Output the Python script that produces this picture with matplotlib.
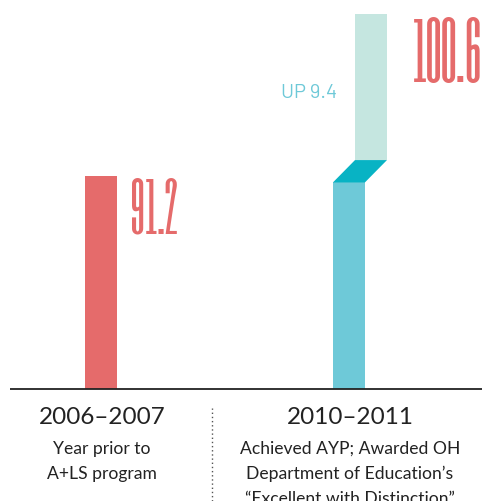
import matplotlib

matplotlib.use("Agg")
import matplotlib.pyplot as plt  # noqa: E402
from matplotlib import transforms  # noqa: E402
from matplotlib.patches import Polygon  # noqa: E402

# data
PERIODS = ["2006\u20132007", "2010\u20132011"]
NOTES = [
    "Year prior to\nA+LS program",
    "Achieved AYP; Awarded OH\nDepartment of Education\u2019s\n\u201cExcellent with Distinction\u201d",
]
BEFORE = 91.2
AFTER = 100.6

RED = "#E56B6B"
TEAL = "#6EC9D8"
TEAL_DARK = "#08B3C4"
TEAL_LIGHT = "#C5E6E0"
INK = "#222222"

YMIN, YMAX = 78.8, 101.4
W = 0.129        # bar width (category units)
SHIFT = 0.089    # sideways step of the upper bar
STEP_LO, STEP_HI = 0.4, 0.9   # vertical extent of the slanted joint around BEFORE

NUM_FONT = "Six Caps"
TXT_FONT = "Lato"

fig = plt.figure(figsize=(4.91, 5.01), dpi=100)
ax = fig.add_axes([0, 112 / 501, 1, 389 / 501])
ax.set_xlim(-0.407, 1.573)
ax.set_ylim(YMIN, YMAX)
ax.axis("off")

# before bar
ax.bar(0, BEFORE - YMIN, bottom=YMIN, width=W, color=RED)

# after: lower part, slanted joint, upper part
lo = BEFORE - STEP_LO
hi = BEFORE + STEP_HI
ax.bar(1, lo - YMIN, bottom=YMIN, width=W, color=TEAL)
ax.add_patch(Polygon([(1 - W / 2, lo), (1 + W / 2, lo),
                      (1 + SHIFT + W / 2, hi), (1 + SHIFT - W / 2, hi)],
                     closed=True, color=TEAL_DARK, lw=0))
ax.bar(1 + SHIFT, AFTER - hi, bottom=hi, width=W, color=TEAL_LIGHT)

# value labels
ax.text(0.117, BEFORE - 0.1, f"{BEFORE:.1f}", color=RED, fontsize=47, family=NUM_FONT,
        ha="left", va="top")
ax.text(1.258, AFTER - 0.2, f"{AFTER:.1f}", color=RED, fontsize=54, family=NUM_FONT,
        ha="left", va="top")
ax.text(0.952, 95.7, f"UP {AFTER - BEFORE:.1f}", color=TEAL, fontsize=14.5,
        family="Barlow", ha="right", va="baseline")

# baseline
ax.plot([-0.366, 1.537], [YMIN, YMIN], color=INK, lw=1.3, clip_on=False,
        solid_capstyle="butt")

# category labels under the axis
tr = transforms.blended_transform_factory(ax.transData, fig.transFigure)
for i, (period, note) in enumerate(zip(PERIODS, NOTES)):
    ax.text(i + 0.004, 1 - 417.5 / 501, period, transform=tr, ha="center", va="center",
            fontsize=17.5, family=TXT_FONT, color=INK)
    ax.text(i + 0.004, 1 - 441 / 501, note, transform=tr, ha="center", va="top",
            fontsize=12.6, family=TXT_FONT, color=INK, linespacing=1.68)

# dotted divider
ax.plot([0.448, 0.448], [0, 1 - 408 / 501], transform=tr, color="#555555",
        lw=1, ls=(0, (1, 2)), clip_on=False)

fig.savefig("out.png", dpi=100)
